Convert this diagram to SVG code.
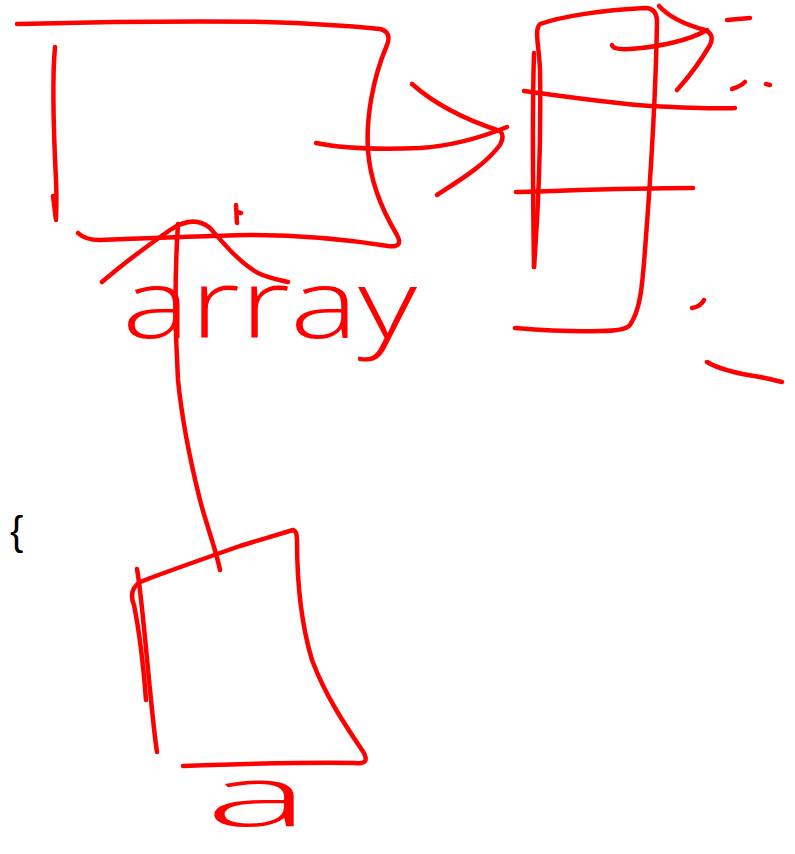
<svg xmlns="http://www.w3.org/2000/svg" width="795" height="854" viewBox="0 0 795 854">
<style>
.ink{fill:none;stroke:#ff0000;stroke-width:4.5;stroke-linecap:round;stroke-linejoin:round}
.hand{fill:#ff0000;font-family:"Open Sans","DejaVu Sans",sans-serif;font-weight:300}
</style>
<rect width="795" height="854" fill="#ffffff"/>
<g id="array-box">
<path class="ink" d="M17,24 C100,22 200,21 265,22 C300,23 350,26 380,29 Q392,32 387,45 C372,80 366,120 368,150 C370,180 382,210 397,235 Q404,248 388,246 C350,240 300,235 250,235 C200,236 150,238 100,240 Q85,240 78,233"/>
<path class="ink" d="M55,47 C52,80 54,140 56,180 C57,200 56,215 56,220 L53,196"/>
<path class="ink" d="M236,205 L237,223 M237,212 L241,213"/>
<text class="hand" x="122" y="338" font-size="96" textLength="295" lengthAdjust="spacingAndGlyphs">array</text>
</g>
<g id="right-column">
<path class="ink" d="M534,267 C539,200 541,130 540,70 C539,45 534,30 540,24 C560,17 600,10 645,8 Q657,8 657,22 C656,80 652,160 645,250 C642,290 640,310 630,325 Q625,331 600,331 C570,332 540,330 515,328"/>
<path class="ink" d="M534,53 C532,120 533,200 534,267"/>
<path class="ink" d="M524,91 C560,96 620,104 650,106 C690,108 720,109 735,108"/>
<path class="ink" d="M516,192 C560,191 620,188 693,188"/>
<path class="ink" d="M612,45 Q613,50 630,49 C660,47 690,40 707,30"/>
<path class="ink" d="M659,6 C670,18 690,26 705,30 Q715,34 710,45 C700,62 688,78 677,90"/>
<path class="ink" d="M727,20 L750,18"/>
<path class="ink" d="M732,89 C738,87 742,85 745,82"/>
<path class="ink" d="M766,84 L770,85"/>
<path class="ink" d="M692,308 C698,307 702,304 704,300"/>
<path class="ink" d="M707,362 C720,370 740,374 760,377 C770,379 778,381 782,382"/>
</g>
<g id="a-box">
<path class="ink" d="M146,700 C143,660 139,630 134,605 Q128,590 140,582 C160,574 200,560 240,546 C260,540 280,534 293,530 Q297,531 297,540 C297,580 300,620 312,660 C325,695 345,725 362,750 Q372,765 355,763 C300,762 240,764 183,766"/>
<path class="ink" d="M137,569 C141,590 146,650 150,690 C153,720 155,740 157,752"/>
<text class="hand" x="205" y="826" font-size="84" textLength="105" lengthAdjust="spacingAndGlyphs">a</text>
</g>
<g id="brace">
<text x="10" y="545" font-family="Liberation Sans, Arial, sans-serif" font-size="40" fill="#000000">{</text>
</g>
<g id="connectors">
<path class="ink" d="M316,143 C340,148 370,150 420,148 C450,146 480,138 507,127"/>
<path class="ink" d="M412,84 C430,100 460,118 500,131 Q505,136 500,145 C485,165 460,180 437,195"/>
<path class="ink" d="M178,224 C175,270 175,330 178,380 C182,420 190,460 200,500 C208,530 216,550 220,570"/>
<path class="ink" d="M102,282 C125,262 150,244 170,230 C185,220 198,218 210,228 C225,245 240,263 258,273 C268,278 280,280 288,282"/>
</g>
</svg>
